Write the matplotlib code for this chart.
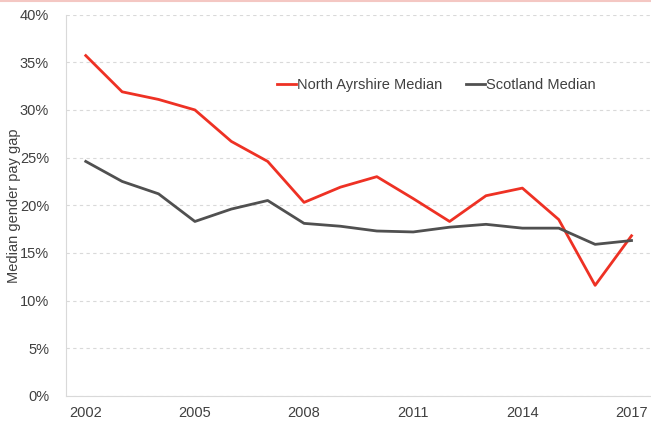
import matplotlib.pyplot as plt
from matplotlib.lines import Line2D
from matplotlib.ticker import PercentFormatter

plt.rcParams['font.family'] = ['Liberation Sans', 'DejaVu Sans']

years = list(range(2002, 2018))
north_ayrshire = [35.7, 31.9, 31.1, 30.0, 26.7, 24.6, 20.3, 21.9, 23.0, 20.7,
                  18.3, 21.0, 21.8, 18.5, 11.6, 16.8]
scotland = [24.6, 22.5, 21.2, 18.3, 19.6, 20.5, 18.1, 17.8, 17.3, 17.2,
            17.7, 18.0, 17.6, 17.6, 15.9, 16.3]
xticks = [2002, 2005, 2008, 2011, 2014, 2017]

fig = plt.figure(figsize=(6.51, 4.23), dpi=100)
ax = fig.add_axes([0.101, 0.064, 0.897, 0.9015])

ax.plot(years, north_ayrshire, color='#ee3124', lw=2, label='North Ayrshire Median')
ax.plot(years, scotland, color='#505050', lw=2, label='Scotland Median')

ax.set_ylim(0, 40)
ax.set_xlim(2001.45, 2017.5)
ax.set_yticks(range(0, 41, 5))
ax.yaxis.set_major_formatter(PercentFormatter(decimals=0))
ax.set_xticks(xticks)
ax.grid(axis='y', color='#d9d9d9', ls=(0, (3, 3)), lw=0.8)
ax.tick_params(length=0, labelsize=10.5, colors='#404040')
ax.tick_params(axis='y', pad=12)
ax.tick_params(axis='x', pad=7)
for s in ['top', 'right']:
    ax.spines[s].set_visible(False)
for s in ['left', 'bottom']:
    ax.spines[s].set_color('#d9d9d9')
ax.set_ylabel('Median gender pay gap', fontsize=10.5, color='#404040')
ax.yaxis.set_label_coords(-0.077, 0.5)

ax.legend(loc='center left', bbox_to_anchor=(0.361, 0.815), ncol=2, frameon=False,
          fontsize=10.5, labelcolor='#404040', handlelength=1.3, handletextpad=0.1,
          columnspacing=1.6, borderpad=0, borderaxespad=0)

fig.add_artist(Line2D([0, 1], [0.998, 0.998], color='#f4c7c3', lw=1.5,
                      transform=fig.transFigure))

fig.savefig('out.png', dpi=100)
